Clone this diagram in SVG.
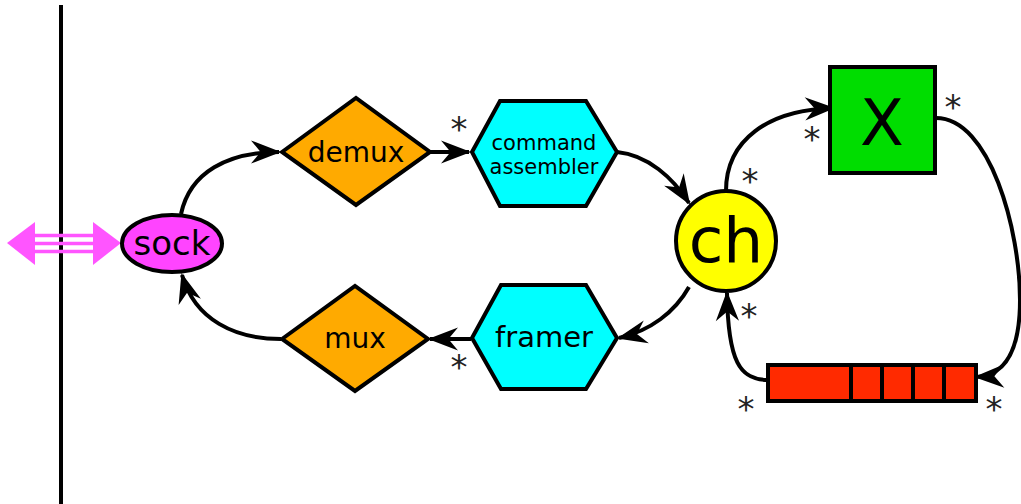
<svg xmlns="http://www.w3.org/2000/svg" width="1021" height="504" viewBox="0 0 1021 504">
  <style>
    .node { stroke: #000; stroke-width: 4; stroke-linejoin: miter; }
    .lbl { font-family: "DejaVu Sans", "Liberation Sans", sans-serif; fill: #000; text-anchor: middle; }
    .edge { fill: none; stroke: #000; stroke-width: 4; marker-end: url(#arrow); }
    .mult { font-family: "DejaVu Sans", "Liberation Sans", sans-serif; font-size: 34px; fill: #222; text-anchor: middle; }
  </style>
  <defs>
    <!-- swept-back arrowhead, sized in stroke-width units (4px strokes) -->
    <marker id="arrow" markerUnits="strokeWidth" viewBox="-8 -3.2 9 6.4" refX="0" refY="0" markerWidth="9" markerHeight="6.4" orient="auto" overflow="visible">
      <path d="M0.5,0 L-7,-2.9 L-4.6,0 L-7,2.9 Z" fill="#000"/>
    </marker>
  </defs>

  <rect width="1021" height="504" fill="#fff"/>

  <!-- boundary line -->
  <line x1="61" y1="5" x2="61" y2="504" stroke="#000" stroke-width="4"/>

  <!-- external link (double arrow) -->
  <g id="link">
    <polygon points="7,243 35,222 35,265" fill="#ff55ff"/>
    <polygon points="121,243 93,222 93,265" fill="#ff55ff"/>
    <g stroke="#ff55ff" stroke-width="3.5">
      <line x1="34" y1="235.5" x2="94" y2="235.5"/>
      <line x1="34" y1="243.5" x2="94" y2="243.5"/>
      <line x1="34" y1="251.5" x2="94" y2="251.5"/>
    </g>
  </g>

  <!-- connectors -->
  <g id="connectors">
    <path class="edge" d="M181,214 C190,172 228,152 279,152"/>
    <path class="edge" d="M430,152 L469,152"/>
    <path class="edge" d="M617,152 C648,155 673,178 689,203"/>
    <path class="edge" d="M726,191 C726,140 768,110 833,108"/>
    <path class="edge" d="M936,118 C990,118 1020,230 1020,300 C1020,350 1005,376 976,377"/>
    <path class="edge" d="M768,380 C740,380 728,362 727,293"/>
    <path class="edge" d="M689,287 C675,312 650,331 619,338"/>
    <path class="edge" d="M471,339 L430,339"/>
    <path class="edge" d="M281,339 C235,339 195,320 182,275"/>
  </g>

  <!-- multiplicity marks -->
  <g id="multiplicities">
    <text class="mult" x="459" y="141">*</text>
    <text class="mult" x="459" y="379">*</text>
    <text class="mult" x="750" y="193">*</text>
    <text class="mult" x="812" y="151">*</text>
    <text class="mult" x="953" y="119">*</text>
    <text class="mult" x="749" y="328">*</text>
    <text class="mult" x="746" y="421">*</text>
    <text class="mult" x="994" y="421">*</text>
  </g>

  <g id="sock">
    <ellipse class="node" cx="172" cy="243.5" rx="50" ry="28.5" fill="#ff44ff"/>
    <text class="lbl" x="172" y="255" font-size="34">sock</text>
  </g>

  <g id="demux">
    <polygon class="node" points="282,152 356,98 430,152 356,205" fill="#ffaa00"/>
    <text class="lbl" x="356" y="162" font-size="28">demux</text>
  </g>

  <g id="command-assembler">
    <polygon class="node" points="472,152 500,101 586,101 617,152 586,206 500,206" fill="#00ffff"/>
    <text class="lbl" x="544" y="150" font-size="21">command</text>
    <text class="lbl" x="544" y="174" font-size="21">assembler</text>
  </g>

  <g id="mux">
    <polygon class="node" points="282,339 355,286 428,339 355,391" fill="#ffaa00"/>
    <text class="lbl" x="355" y="348" font-size="28">mux</text>
  </g>

  <g id="framer">
    <polygon class="node" points="472,338 501,285 586,285 617,338 586,389 501,389" fill="#00ffff"/>
    <text class="lbl" x="544" y="347" font-size="29">framer</text>
  </g>

  <g id="ch">
    <circle class="node" cx="726" cy="241" r="50" fill="#ffff00"/>
    <text class="lbl" x="726" y="262" font-size="63">ch</text>
  </g>

  <g id="X">
    <rect class="node" x="830" y="67" width="105" height="106" fill="#00dd00"/>
    <text class="lbl" x="882" y="145" font-size="64">X</text>
  </g>

  <g id="queue">
    <rect class="node" x="768" y="365" width="208" height="36" fill="#ff2a00"/>
    <g stroke="#000" stroke-width="4">
      <line x1="851" y1="365" x2="851" y2="401"/>
      <line x1="882" y1="365" x2="882" y2="401"/>
      <line x1="913" y1="365" x2="913" y2="401"/>
      <line x1="944" y1="365" x2="944" y2="401"/>
    </g>
  </g>
</svg>
